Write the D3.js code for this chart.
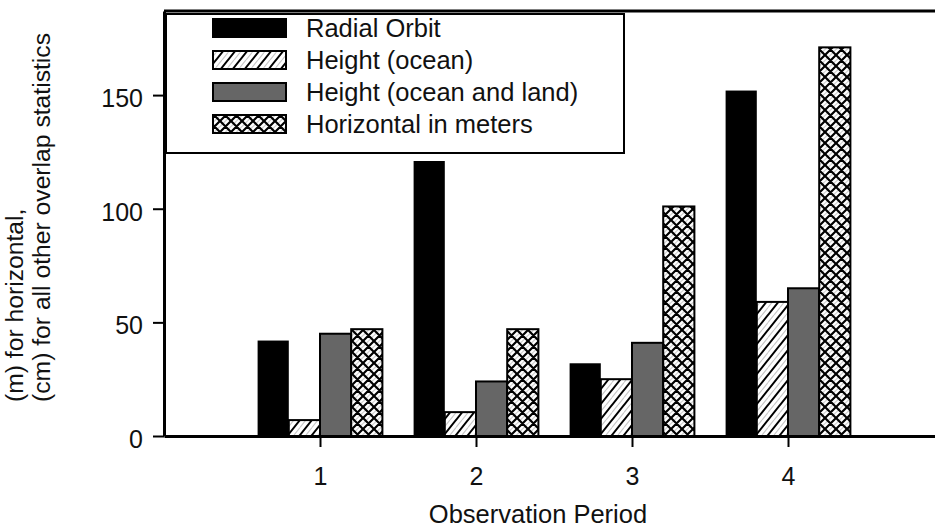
<!DOCTYPE html>
<html>
<head>
<meta charset="utf-8">
<script src="https://cdn.jsdelivr.net/npm/d3@7/dist/d3.min.js"></script>
<style>
  html, body { margin: 0; padding: 0; background: #fff; }
  svg { display: block; }
  text { font-family: "Liberation Sans", Arial, sans-serif; fill: #111; }
</style>
</head>
<body>
<svg id="chart" width="935" height="528"></svg>
<script>
// ---- data ----
const periods = [1, 2, 3, 4];
const seriesNames = ["Radial Orbit", "Height (ocean)", "Height (ocean and land)", "Horizontal in meters"];
const radialOrbit = [42, 121, 32, 152];
const heightOcean = [7, 10.5, 25, 59];
const heightOceanLand = [45, 24, 41, 65];
const horizontalMeters = [47, 47, 101, 171];
const yTicks = [0, 50, 100, 150];
const xTitle = "Observation Period";
const yTitleLines = ["(m) for horizontal,", "(cm) for all other overlap statistics"];

const seriesValues = [radialOrbit, heightOcean, heightOceanLand, horizontalMeters];
const seriesFills = ["#000", "url(#hatch)", "#666", "url(#cross)"];

// ---- layout ----
const svg = d3.select("#chart");
const x = d3.scaleLinear().domain([0, 5]).range([164, 944]);
const y = d3.scaleLinear().domain([0, 187]).range([436, 11]);
const barW = x(0.2) - x(0);

// ---- patterns ----
const defs = svg.append("defs");
const hatch = defs.append("pattern").attr("id", "hatch")
  .attr("patternUnits", "userSpaceOnUse").attr("width", 12).attr("height", 15);
hatch.append("rect").attr("width", 12).attr("height", 15).attr("fill", "#fff");
hatch.append("path").attr("d", "M0,7.5 L6,0 M6,15 L12,7.5")
  .attr("stroke", "#c8c8c8").attr("stroke-width", 1.2);
hatch.append("path").attr("d", "M0,15 L12,0 M-1,1.25 L1,-1.25 M11,16.25 L13,13.75")
  .attr("stroke", "#000").attr("stroke-width", 2);

const cross = defs.append("pattern").attr("id", "cross")
  .attr("patternUnits", "userSpaceOnUse").attr("width", 11).attr("height", 11);
cross.append("rect").attr("width", 11).attr("height", 11).attr("fill", "#fff");
cross.append("path").attr("d", "M0,5.5 L5.5,0 M5.5,11 L11,5.5")
  .attr("stroke", "#cfcfcf").attr("stroke-width", 1.2);
cross.append("path")
  .attr("d", "M0,11 L11,0 M0,0 L11,11 M-1,1 L1,-1 M10,12 L12,10 M10,-1 L12,1 M-1,10 L1,12")
  .attr("stroke", "#000").attr("stroke-width", 2.2);

// ---- bars ----
seriesValues.forEach((vals, j) => {
  svg.append("g").selectAll("rect").data(vals).join("rect")
    .attr("x", (d, i) => x(periods[i]) + (j - 2) * barW)
    .attr("y", d => y(d))
    .attr("width", barW)
    .attr("height", d => y(0) - y(d))
    .attr("fill", seriesFills[j])
    .attr("stroke", "#000")
    .attr("stroke-width", j === 0 ? 0 : 2);
});

// ---- axes ----
const yAxis = svg.append("g").attr("transform", `translate(${x(0)},0)`)
  .call(d3.axisLeft(y).tickValues(yTicks).tickSize(11).tickSizeOuter(0).tickPadding(10));
yAxis.select(".domain").attr("stroke-width", 3);
yAxis.selectAll(".tick line").attr("stroke-width", 2);
yAxis.selectAll(".tick text").attr("font-size", 25).attr("dy", "0.46em")
  .style("font-family", '"Liberation Sans", Arial, sans-serif').attr("fill", "#111");

const xAxis = svg.append("g").attr("transform", `translate(0,${y(0)})`)
  .call(d3.axisBottom(x).tickValues(periods).tickSize(11).tickSizeOuter(0).tickPadding(20)
    .tickFormat(d3.format("d")));
xAxis.select(".domain").attr("stroke-width", 3);
xAxis.selectAll(".tick line").attr("stroke-width", 2);
xAxis.selectAll(".tick text").attr("font-size", 25)
  .style("font-family", '"Liberation Sans", Arial, sans-serif').attr("fill", "#111");

// top frame line
svg.append("line").attr("x1", x(0)).attr("x2", x(5)).attr("y1", y(187)).attr("y2", y(187))
  .attr("stroke", "#000").attr("stroke-width", 3);

// ---- titles ----
svg.append("text").attr("x", 538).attr("y", 523).attr("text-anchor", "middle")
  .attr("font-size", 25.5).text(xTitle);

yTitleLines.forEach((t, i) => {
  svg.append("text")
    .attr("transform", `translate(${23 + i * 27},402) rotate(-90)`)
    .attr("text-anchor", "start").attr("font-size", 24.7).text(t);
});

// ---- legend ----
const lg = svg.append("g");
lg.append("rect").attr("x", 166).attr("y", 14).attr("width", 458).attr("height", 139)
  .attr("fill", "#fff").attr("stroke", "#000").attr("stroke-width", 2);
seriesNames.forEach((name, j) => {
  const cy = 28 + j * 32;
  lg.append("rect").attr("x", 213).attr("y", cy - 9).attr("width", 73).attr("height", 18)
    .attr("fill", seriesFills[j]).attr("stroke", "#000").attr("stroke-width", 2);
  lg.append("text").attr("x", 306).attr("y", cy + 9).attr("font-size", 25.5).text(name);
});
</script>
</body>
</html>
